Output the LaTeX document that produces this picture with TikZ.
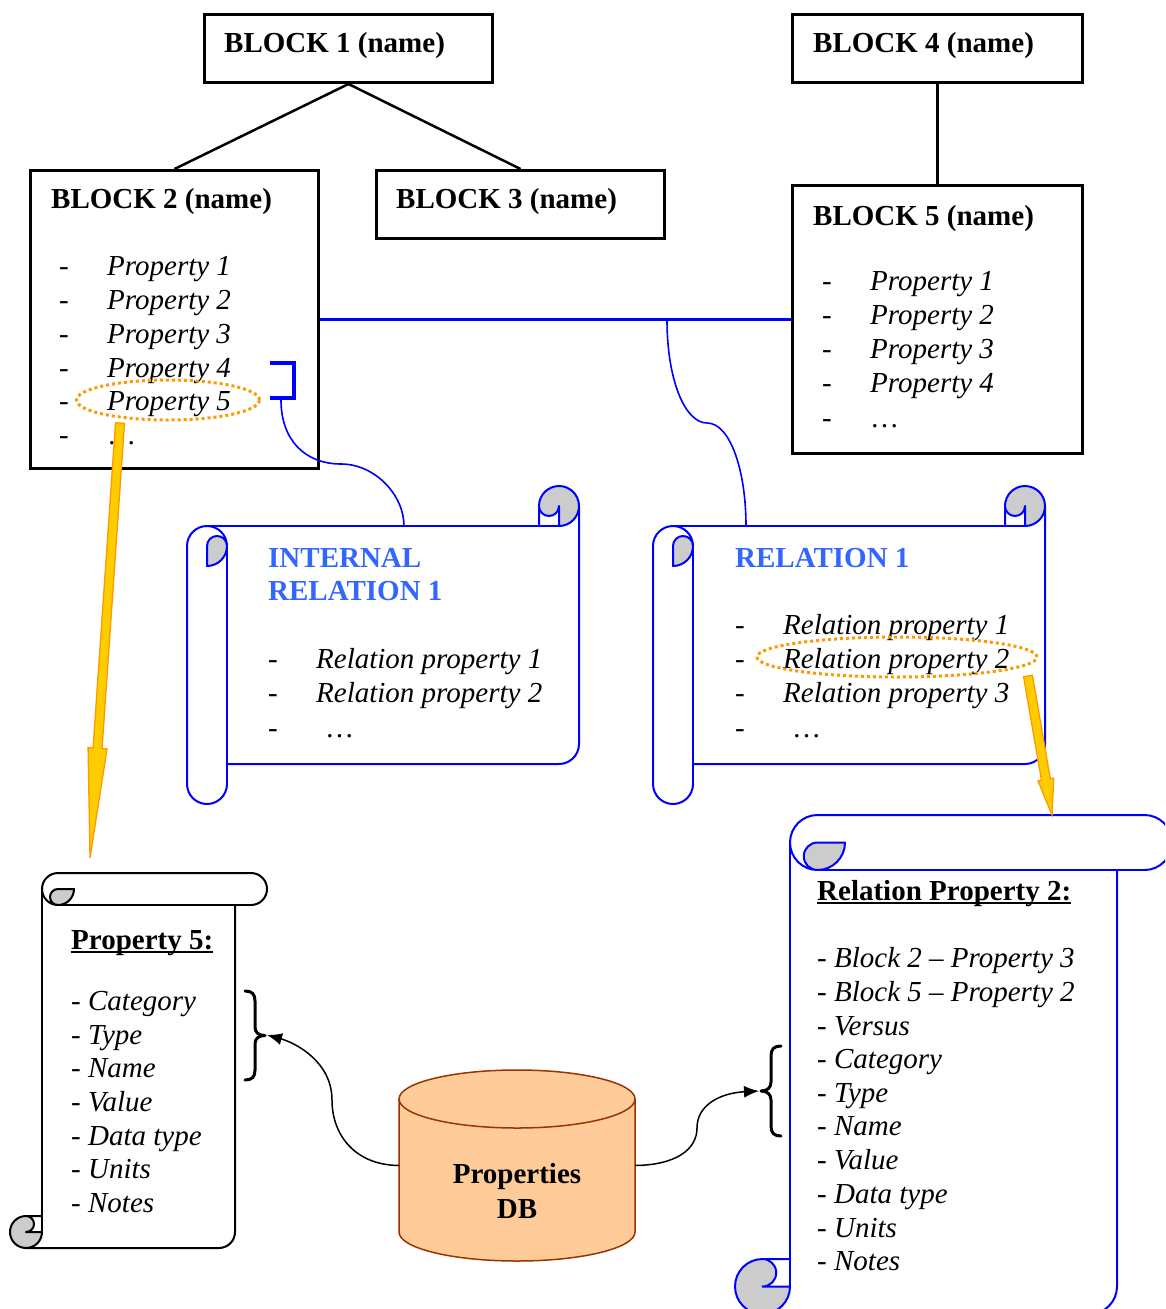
\documentclass[tikz,border=0pt]{standalone}
\usepackage{fontspec}
\setmainfont{Liberation Serif}
\usetikzlibrary{calc,arrows.meta,shapes.geometric}
\definecolor{lineblue}{RGB}{0,0,255}
\definecolor{titleblue}{RGB}{51,102,255}
\definecolor{orng}{RGB}{255,153,0}
\definecolor{yel}{RGB}{255,204,0}
\definecolor{curlgray}{RGB}{204,204,204}
\definecolor{dbfill}{RGB}{255,204,153}
\definecolor{dbline}{RGB}{153,51,0}

% scroll in local coordinates: #1 = W, #2 = H, #3 = roll size, #4 = line colour
\newcommand\scrollshape[4]{%
  \pgfmathsetmacro\scW{#1}%
  \pgfmathsetmacro\scH{#2}%
  \pgfmathsetmacro\scC{#3}%
  \pgfmathsetmacro\scD{#3/2}%
  \pgfmathsetmacro\scQ{#3/4}%
  \fill[white] (0,{\scC+\scD}) arc[start angle=180, delta angle=90, radius=\scD]
     -- ({\scW-\scC},\scC) -- ({\scW-\scC},\scD)
     arc[start angle=180, delta angle=180, radius=\scD]
     -- (\scW,{\scH-\scC-\scD}) arc[start angle=0, delta angle=90, radius=\scD]
     -- (\scC,{\scH-\scC}) -- (\scC,{\scH-\scD})
     arc[start angle=0, delta angle=180, radius=\scD] -- cycle;
  \fill[curlgray] ({\scW-\scC},\scD) arc[start angle=180, delta angle=-180, radius=\scQ]
     -- ({\scW-\scD},\scC) arc[start angle=90, delta angle=-270, radius=\scD] -- cycle;
  \fill[curlgray] (\scD,{\scC+\scD}) arc[start angle=180, delta angle=180, radius=\scQ]
     arc[start angle=0, delta angle=90, radius=\scD] -- cycle;
  \begin{scope}[draw=#4, line width=2pt, line join=round, line cap=round]
    \draw (\scC,{\scH-\scD}) -- (\scC,{\scC+\scD});
    \draw (0,{\scH-\scD}) -- (0,{\scC+\scD})
       arc[start angle=180, delta angle=180, radius=\scD]
       arc[start angle=0, delta angle=90, radius=\scD]
       -- (\scD,{\scC+\scD}) arc[start angle=180, delta angle=180, radius=\scQ];
    \draw (0,{\scH-\scD}) arc[start angle=180, delta angle=-180, radius=\scD];
    \draw (\scD,\scC) -- ({\scW-\scD},\scC);
    \draw (\scW,\scD) -- (\scW,{\scH-\scC-\scD})
       arc[start angle=0, delta angle=90, radius=\scD] -- (\scC,{\scH-\scC});
    \draw ({\scW-\scD},\scC) -- ({\scW-\scD},\scD)
       arc[start angle=0, delta angle=180, radius=\scQ] -- ({\scW-\scC},\scC);
    \draw ({\scW-\scC},\scD) arc[start angle=180, delta angle=270, radius=\scD];
  \end{scope}
}

% block arrow: #1 start, #2 tip, #3 shaft half width, #4 head half width, #5 head length
\newcommand\blockarrow[5]{%
  \coordinate (#1-hb) at ($(#2)!#5!(#1)$);
  \filldraw[blockarr] ($(#1)!#3!90:(#2)$) -- ($(#1-hb)!#3!-90:(#1)$)
    -- ($(#1-hb)!#4!-90:(#1)$) -- (#2) -- ($(#1-hb)!#4!90:(#1)$)
    -- ($(#1-hb)!#3!90:(#1)$) -- ($(#1)!#3!-90:(#2)$) -- cycle;
}

\begin{document}
\begin{tikzpicture}[x=1pt,y=-1pt,
  blk/.style={draw, line width=3pt, anchor=north west, inner sep=0pt},
  txt/.style={font=\fontsize{29}{34}\selectfont, inner sep=0pt, anchor=base west},
  btxt/.style={txt, font=\fontsize{29}{34}\selectfont\bfseries},
  itxt/.style={txt, font=\fontsize{29}{34}\selectfont\itshape},
  link/.style={line width=2.5pt},
  bluelink/.style={draw=lineblue, line width=1.6pt},
  dotell/.style={ellipse, draw=orng, line width=3pt, dash pattern=on 3pt off 3pt, inner sep=0pt},
  blockarr/.style={fill=yel, draw=orng, line width=1.3pt, line join=miter},
  bracepath/.style={line width=3pt, line cap=round, line join=round},
  dbarrow/.style={line width=1.5pt, -{Latex[length=15pt,width=12pt]}},
]
\useasboundingbox (0,0) rectangle (1165,1309);
\clip (0,0) rectangle (1165,1309);

% ---------------- blocks
\node[blk, minimum width=288pt, minimum height=68pt] (b1) at (203,13) {};
\node[blk, minimum width=288pt, minimum height=298pt] (b2) at (29,169) {};
\node[blk, minimum width=288pt, minimum height=68pt] (b3) at (375,169) {};
\node[blk, minimum width=290pt, minimum height=68pt] (b4) at (791,13) {};
\node[blk, minimum width=290pt, minimum height=268pt] (b5) at (791,184) {};

\draw[link] (b1.south) -- (b2.north);
\draw[link] (b1.south) -- (b3.north);
\draw[link] (b4.south) -- (b5.north);

\node[btxt] (t1) at (224,52) {BLOCK 1 (name)};
\node[btxt] (t2) at (51,208) {BLOCK 2 (name)};
\node[btxt] (t3) at (396,208) {BLOCK 3 (name)};
\node[btxt] (t4) at (813,52) {BLOCK 4 (name)};
\node[btxt] (t5) at (813,225) {BLOCK 5 (name)};

\foreach \i/\yy in {1/275,2/309,3/343,4/377,5/410}{
  \node[txt] (b2d\i) at (59,\yy) {-};
  \node[itxt] (b2p\i) at (107,\yy) {Property \i};
}
\node[txt] (b2d6) at (59,444) {-};
\node[txt] (b2p6) at (107,444) {…};

\foreach \i/\yy in {1/290,2/324,3/358,4/392}{
  \node[txt] (b5d\i) at (822,\yy) {-};
  \node[itxt] (b5p\i) at (870,\yy) {Property \i};
}
\node[txt] (b5d5) at (822,427) {-};
\node[txt] (b5p5) at (870,427) {…};

% ---------------- blue relations
\draw[draw=lineblue, line width=3pt] (b2.east) -- (b5.west);
\coordinate (brk1) at (270,363);
\coordinate (brk2) at (270,398);
\draw[draw=lineblue, line width=3.5pt] (brk1) -| ($(brk2)+(24,0)$) -- (brk2);
\coordinate (c1s) at (281,400);
\coordinate (irTop) at (404,526);
\coordinate (c2s) at (667,320);
\coordinate (r1Top) at (746,526);
\draw[bluelink] (c1s) .. controls (281,440) and (305,464) .. (341,464)
   .. controls (375,464) and (404,495) .. (irTop);
\draw[bluelink] (c2s) .. controls (667,380) and (685,423) .. (707,423)
   .. controls (730,423) and (746,470) .. (r1Top);

% ---------------- scrolls
\begin{scope}[shift={(187,486)}]
  \scrollshape{392}{318}{40}{lineblue}
\end{scope}
\begin{scope}[shift={(653,486)}]
  \scrollshape{392}{318}{40}{lineblue}
\end{scope}
\begin{scope}[shift={(10,873)}]
  \begin{scope}[x={(0pt,-1pt)}, y={(1pt,0pt)}]
    \scrollshape{375}{257}{32}{black}
  \end{scope}
\end{scope}
\begin{scope}[shift={(735,815)}]
  \begin{scope}[x={(0pt,-1pt)}, y={(1pt,0pt)}]
    \scrollshape{499}{437}{55}{lineblue}
  \end{scope}
\end{scope}

% internal relation text
\node[btxt, text=titleblue] (irt1) at (268,567) {INTERNAL};
\node[btxt, text=titleblue] (irt2) at (268,600) {RELATION 1};
\foreach \i/\yy in {1/668,2/702}{
  \node[txt] (ird\i) at (268,\yy) {-};
  \node[itxt] (irp\i) at (316,\yy) {Relation property \i};
}
\node[txt] (ird3) at (268,737) {-};
\node[txt] (irp3) at (325,737) {…};

% relation 1 text
\node[btxt, text=titleblue] (r1t) at (735,567) {RELATION 1};
\foreach \i/\yy in {1/634,2/668,3/702}{
  \node[txt] (r1d\i) at (735,\yy) {-};
  \node[itxt] (r1p\i) at (783,\yy) {Relation property \i};
}
\node[txt] (r1d4) at (735,737) {-};
\node[txt] (r1p4) at (792,737) {…};

% property 5 text
\node[btxt] (p5t) at (71,949) {Property 5:};
\draw[line width=1.8pt] ([yshift=-3pt]p5t.base west) -- ([yshift=-3pt]p5t.base east);
\foreach \i/\yy/\lbl in {1/1010/Category,2/1044/Type,3/1077/Name,4/1111/Value,5/1145/Data type,6/1178/Units,7/1212/Notes}{
  \node[txt] (p5i\i) at (71,\yy) {- \textit{\lbl}};
}

% relation property 2 text
\node[btxt] (rpt) at (817,900) {Relation Property 2:};
\draw[line width=1.8pt] ([yshift=-3pt]rpt.base west) -- ([yshift=-3pt]rpt.base east);
\foreach \i/\yy/\lbl in {1/967/Block 2 – Property 3,2/1001/Block 5 – Property 2,3/1035/Versus,4/1068/Category,5/1102/Type,6/1135/Name,7/1169/Value,8/1203/Data type,9/1237/Units,10/1270/Notes}{
  \node[txt] (rpi\i) at (817,\yy) {- \textit{\lbl}};
}

% ---------------- dotted highlight ellipses
\node[dotell, minimum width=183pt, minimum height=40pt] (e5) at (168,400) {};
\node[dotell, minimum width=280pt, minimum height=40pt] (e2) at (897,657) {};

% ---------------- database
\node[minimum width=236pt, minimum height=191pt, inner sep=0pt] (db) at (517,1165.5) {};
\filldraw[fill=dbfill, draw=dbline, line width=1.5pt]
  (399,1099) -- (399,1232) arc[start angle=180, delta angle=-180, x radius=118, y radius=29]
  -- (635,1099) arc[start angle=0, delta angle=-180, x radius=118, y radius=29] -- cycle;
\draw[draw=dbline, line width=1.5pt]
  (399,1099) arc[start angle=180, delta angle=-180, x radius=118, y radius=29];
\node[btxt, anchor=base] (dbt1) at (517,1183) {Properties};
\node[btxt, anchor=base] (dbt2) at (517,1218) {DB};

% ---------------- braces
\draw[bracepath] (245,991) .. controls (252,991) and (255,994) .. (255,1001) -- (255,1027)
  .. controls (255,1032) and (258,1035.5) .. (265,1035.5)
  .. controls (258,1035.5) and (255,1039) .. (255,1044) -- (255,1070)
  .. controls (255,1077) and (252,1080) .. (245,1080);
\draw[bracepath] (781,1046) .. controls (774,1046) and (771,1049) .. (771,1056) -- (771,1082)
  .. controls (771,1087) and (768,1091) .. (761,1091)
  .. controls (768,1091) and (771,1095) .. (771,1100) -- (771,1126)
  .. controls (771,1133) and (774,1136) .. (781,1136);
\coordinate (brLtip) at (267,1035);
\coordinate (brRtip) at (759,1091);
\draw[dbarrow] (db.west) .. controls (355,1165) and (332,1135) .. (332,1100)
   .. controls (332,1062) and (296,1043) .. (brLtip);
\draw[dbarrow] (db.east) .. controls (675,1165) and (697,1150) .. (697,1128)
   .. controls (697,1105) and (720,1093) .. (brRtip);

% ---------------- block arrows
\coordinate (a1s) at (120,423);
\coordinate (a1t) at (90,858);
\blockarrow{a1s}{a1t}{4.5pt}{9.5pt}{110pt}
\coordinate (a2s) at (1028,676);
\coordinate (a2t) at (1052,815);
\blockarrow{a2s}{a2t}{4.5pt}{8pt}{36pt}
\end{tikzpicture}
\end{document}
